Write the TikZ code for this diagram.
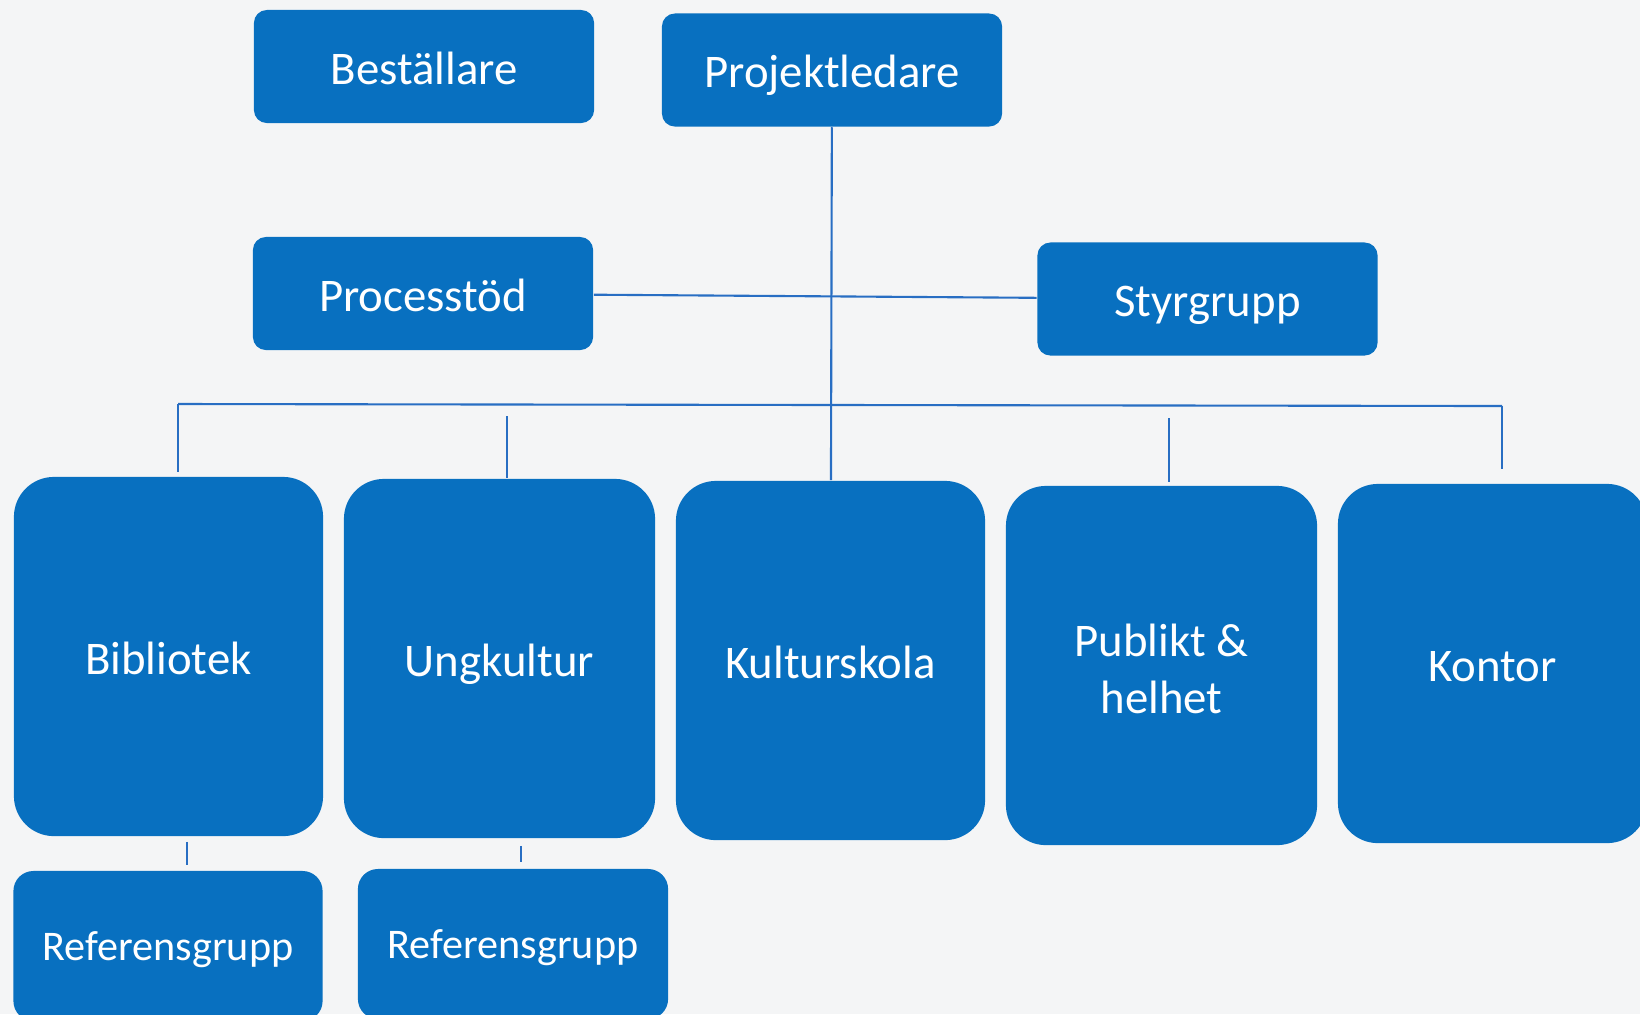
\documentclass[tikz,border=0pt]{standalone}
\usepackage{fontspec}
\setmainfont{Carlito}
\usetikzlibrary{positioning}
\definecolor{boxblue}{RGB}{8,112,192}
\definecolor{lineblue}{RGB}{40,110,195}
\definecolor{paper}{RGB}{244,245,246}
\tikzstyle{topbox} = [rectangle, rounded corners=0.13cm, minimum width=3.4cm, minimum height=1.13cm, inner sep=0pt, text height=11pt, text depth=1pt, text centered, fill=boxblue, text=white, font=\fontsize{13.3}{16.3}\selectfont]
\tikzstyle{unitbox} = [rectangle, rounded corners=0.4cm, minimum width=3.09cm, minimum height=3.59cm, inner sep=0pt, align=center, fill=boxblue, text=white, font=\fontsize{13.3}{16.3}\selectfont]
\tikzstyle{onerow} = [text height=11pt, text depth=1pt]
\tikzstyle{tworow} = [text height=27.9pt, text depth=0.5pt]
\tikzstyle{refbox} = [rectangle, rounded corners=0.2cm, minimum width=3.09cm, minimum height=1.5cm, inner sep=0pt, text height=9.5pt, text depth=1pt, text centered, fill=boxblue, text=white, font=\fontsize{12}{14}\selectfont]
\tikzstyle{link} = [draw=lineblue, line width=0.6pt]

\begin{document}
\begin{tikzpicture}[x=0.01cm, y=-0.01cm]
		\useasboundingbox (0,0) rectangle (1640,1014);
		\clip (0,0) rectangle (1640,1014);
		\fill [paper] (0,0) rectangle (1640,1014);

		\node (best) [topbox] at (424,66.5) {Beställare};
		\node (proj) [topbox] at (832,70) {Projektledare};
		\node (proc) [topbox] at (423,293.5) {Processtöd};
		\node (styr) [topbox] at (1207.5,299) {Styrgrupp};

		\node (bib) [unitbox, onerow] at (168.5,656.5) {Bibliotek};
		\node (ung) [unitbox, onerow, minimum width=3.11cm] at (499.5,658.5) {Ungkultur};
		\node (kult) [unitbox, onerow] at (830.5,660.5) {Kulturskola};
		\node (publ) [unitbox, tworow, minimum width=3.11cm] at (1161.5,665.5) {Publikt \&\\helhet};
		\node (kont) [unitbox, onerow] at (1492.5,663.5) {Kontor};

		\node (ref_bib) [refbox] at (168,946) {Referensgrupp};
		\node (ref_ung) [refbox, minimum width=3.1cm] at (513,944) {Referensgrupp};

		\coordinate (bus_l) at (178,404);
		\coordinate (bus_r) at (1502,406);
		\coordinate (bus_ung) at (507,404);
		\coordinate (bus_publ) at (1169,405);

		\draw [link] (proj) -- (kult);
		\draw [link] (proc) -- (styr);
		\draw [link] (bus_l) -- (bus_r);
		\draw [link, shorten >=0.04cm] (bus_l) -- (bus_l |- bib.north);
		\draw [link, shorten <=0.12cm] (bus_ung) -- (bus_ung |- ung.north);
		\draw [link, shorten <=0.13cm, shorten >=0.03cm] (bus_publ) -- (bus_publ |- publ.north);
		\draw [link, shorten >=0.14cm] (bus_r) -- (bus_r |- kont.north);
		\draw [link, shorten <=0.05cm, shorten >=0.05cm] ([xshift=0.185cm]bib.south) -- ([xshift=0.185cm]bib.south |- ref_bib.north);
		\draw [link, shorten <=0.07cm, shorten >=0.06cm] ([xshift=0.215cm]ung.south) -- ([xshift=0.215cm]ung.south |- ref_ung.north);
		\end{tikzpicture}
\end{document}
